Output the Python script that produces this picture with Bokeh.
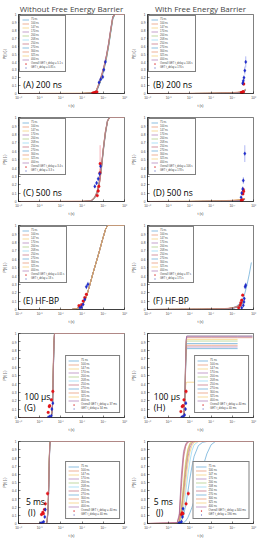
from bokeh.plotting import figure
from bokeh.models import (ColumnDataSource, FixedTicker, CustomJSTickFormatter,
                          Legend, LegendItem, Label, Range1d)
from bokeh.layouts import gridplot
from bokeh.embed import file_html
from bokeh.resources import INLINE

NAN = float("nan")

SERIES = ["75 ns", "100 ns", "147 ns", "170 ns", "200 ns", "208 ns",
          "250 ns", "270 ns", "300 ns", "325 ns", "400 ns"]
COLORS = ["#4095CD", "#E37E53", "#F2C558", "#9E63AA", "#99C164", "#7ACEF2",
          "#B94F63", "#4095CD", "#E37E53", "#F2C558", "#9E63AA"]
X_TICKS_LOG = [-10, -8, -6, -4, -2, 0]
Y_TICKS = [0, 0.1, 0.2, 0.3, 0.4, 0.5, 0.6, 0.7, 0.8, 0.9, 1.0]

# ---------------- (A) 200 ns, no barrier ----------------
A_T = [-10, -4, -3, -2.7, -2.5, -2.3, -2.1, -1.9, -1.7, -1.5, -1.3, -1.1, -0.9, 0]
A_P = [
    [0, 0, 0.004, 0.02, 0.07, 0.14, 0.23, 0.33, 0.45, 0.60, 0.78, 0.95, 1, 1],
    [0, 0.002, 0.012, 0.03, 0.09, 0.16, 0.25, 0.35, 0.47, 0.62, 0.80, 0.97, 1, 1],
    [0, 0, 0.005, 0.025, 0.08, 0.15, 0.24, 0.34, 0.46, 0.61, 0.79, 0.96, 1, 1],
    [0, 0, 0.006, 0.03, 0.09, 0.17, 0.26, 0.36, 0.48, 0.63, 0.81, 0.97, 1, 1],
    [0, 0, 0.004, 0.02, 0.07, 0.15, 0.24, 0.34, 0.46, 0.61, 0.79, 0.96, 1, 1],
    [0, 0, 0.005, 0.025, 0.08, 0.16, 0.25, 0.35, 0.47, 0.62, 0.80, 0.97, 1, 1],
    [0, 0, 0.006, 0.03, 0.10, 0.18, 0.27, 0.37, 0.49, 0.64, 0.82, 0.98, 1, 1],
    [0, 0, 0.004, 0.02, 0.07, 0.14, 0.22, 0.32, 0.44, 0.59, 0.77, 0.94, 1, 1],
    [0, 0, 0.005, 0.02, 0.08, 0.15, 0.24, 0.34, 0.46, 0.61, 0.79, 0.96, 1, 1],
    [0, 0.003, 0.01, 0.03, 0.09, 0.16, 0.25, 0.35, 0.47, 0.62, 0.80, 0.97, 1, 1],
    [0, 0, 0.005, 0.025, 0.08, 0.16, 0.25, 0.36, 0.48, 0.63, 0.81, 0.97, 1, 1],
]
A_RED_T = [-3.0, -2.9, -2.8, -2.7, -2.6]
A_RED_P = [0.005, 0.008, 0.01, 0.012, 0.02]
A_RED_E = [0.005, 0.005, 0.006, 0.006, 0.008]
A_BLUE_T = [-2.4, -2.25, -2.05, -1.95, -1.8]
A_BLUE_P = [0.14, 0.18, 0.21, 0.30, 0.40]
A_BLUE_E = [0.02, 0.02, 0.03, 0.03, 0.04]

# ---------------- (B) 200 ns, barrier ----------------
B_T = [-10, -6, -4, -3, -2, -1.5, -1.2, -1.0, -0.75]
B_P = [
    [0, 0, 0.001, 0.003, 0.006, 0.01, 0.015, 0.025, 0.04],
    [0, 0.001, 0.004, 0.008, 0.012, 0.016, 0.02, 0.03, 0.05],
    [0, 0, 0.002, 0.004, 0.008, 0.012, 0.018, 0.028, 0.045],
    [0, 0, 0.001, 0.003, 0.006, 0.01, 0.015, 0.024, 0.04],
    [0, 0, 0.002, 0.004, 0.007, 0.011, 0.016, 0.026, 0.042],
    [0, 0, 0.001, 0.003, 0.006, 0.01, 0.016, 0.03, 0.06],
    [0, 0, 0.002, 0.005, 0.009, 0.013, 0.018, 0.028, 0.045],
    [0, 0, 0.001, 0.003, 0.006, 0.01, 0.014, 0.022, 0.035],
    [0, 0.001, 0.003, 0.007, 0.011, 0.015, 0.02, 0.03, 0.05],
    [0, 0, 0.002, 0.004, 0.008, 0.012, 0.017, 0.027, 0.044],
    [0, 0, 0.001, 0.003, 0.006, 0.01, 0.015, 0.024, 0.04],
]
B_RED_T = [-1.15, -1.1, -1.05, -1.0, -0.95, -0.92]
B_RED_P = [0.01, 0.01, 0.015, 0.02, 0.02, 0.12]
B_RED_E = [0.005, 0.005, 0.006, 0.008, 0.008, 0.02]
B_BLUE_T = [-1.02, -0.96, -0.9, -0.82, -0.73]
B_BLUE_P = [0.13, 0.16, 0.2, 0.29, 0.4]
B_BLUE_E = [0.02, 0.03, 0.03, 0.05, 0.07]

# ---------------- (C) 500 ns, no barrier ----------------
C_T = [-10, -4, -3.2, -3.0, -2.8, -2.6, -2.4, -2.2, -2.0, -1.8, -1.6, -1.4, 0]
C_P = [
    [0, 0, 0.005, 0.02, 0.05, 0.10, 0.20, 0.38, 0.62, 0.82, 0.96, 1, 1],
    [0, 0.003, 0.01, 0.03, 0.06, 0.12, 0.22, 0.40, 0.64, 0.84, 0.97, 1, 1],
    [0, 0, 0.006, 0.02, 0.05, 0.11, 0.21, 0.39, 0.63, 0.83, 0.96, 1, 1],
    [0, 0, 0.005, 0.02, 0.05, 0.10, 0.19, 0.36, 0.60, 0.80, 0.95, 1, 1],
    [0, 0, 0.004, 0.018, 0.045, 0.09, 0.18, 0.35, 0.59, 0.80, 0.95, 1, 1],
    [0, 0, 0.006, 0.022, 0.055, 0.11, 0.21, 0.39, 0.63, 0.83, 0.97, 1, 1],
    [0, 0, 0.005, 0.02, 0.05, 0.10, 0.20, 0.38, 0.62, 0.82, 0.96, 1, 1],
    [0, 0, 0.004, 0.019, 0.048, 0.10, 0.20, 0.37, 0.61, 0.81, 0.96, 1, 1],
    [0, 0.002, 0.008, 0.025, 0.055, 0.11, 0.21, 0.39, 0.63, 0.83, 0.96, 1, 1],
    [0, 0, 0.005, 0.02, 0.05, 0.10, 0.20, 0.38, 0.62, 0.82, 0.96, 1, 1],
    [0, 0, 0.006, 0.021, 0.052, 0.105, 0.205, 0.385, 0.625, 0.825, 0.965, 1, 1],
]
C_RED_T = [-2.57, -2.48, -2.42, -2.32, -2.3]
C_RED_P = [0.07, 0.125, 0.18, 0.34, 0.45]
C_RED_E = [0.02, 0.03, 0.03, 0.05, 0.22]
C_BLUE_T = [-2.8, -2.63, -2.48, -2.35, -2.26]
C_BLUE_P = [0.18, 0.22, 0.27, 0.33, 0.42]
C_BLUE_E = [0.02, 0.02, 0.03, 0.03, 0.04]

# ---------------- (D) 500 ns, barrier ----------------
D_T = [-10, -6, -4, -3, -2, -1.5, -1.2, -1.0, -0.8]
D_P = [
    [0, 0, 0.002, 0.004, 0.007, 0.01, 0.014, 0.02, 0.03],
    [0, 0.002, 0.006, 0.01, 0.014, 0.018, 0.022, 0.028, 0.035],
    [0, 0.001, 0.004, 0.008, 0.012, 0.016, 0.02, 0.026, 0.032],
    [0, 0, 0.002, 0.004, 0.007, 0.01, 0.013, 0.018, 0.025],
    [0, 0.001, 0.003, 0.006, 0.01, 0.014, 0.018, 0.024, 0.03],
    [0, 0, 0.002, 0.004, 0.007, 0.011, 0.015, 0.022, 0.032],
    [0, 0, 0.003, 0.006, 0.009, 0.013, 0.017, 0.023, 0.03],
    [0, 0, 0.002, 0.004, 0.006, 0.009, 0.012, 0.017, 0.024],
    [0, 0.001, 0.004, 0.008, 0.012, 0.016, 0.02, 0.026, 0.033],
    [0, 0.001, 0.003, 0.007, 0.011, 0.015, 0.019, 0.025, 0.031],
    [0, 0, 0.002, 0.004, 0.007, 0.01, 0.014, 0.02, 0.027],
]
D_RED_T = [-1.15, -1.1, -1.05, -1.0, -0.96, -0.93]
D_RED_P = [0.01, 0.015, 0.02, 0.09, 0.14, 0.12]
D_RED_E = [0.005, 0.005, 0.006, 0.02, 0.03, 0.02]
D_BLUE_T = [-1.17, -1.11, -1.02, -0.96, -0.82]
D_BLUE_P = [0.05, 0.1, 0.15, 0.25, 0.57]
D_BLUE_E = [0.01, 0.02, 0.03, 0.04, 0.1]

# ---------------- (E) HF-BP, no barrier ----------------
E_T = [-10, -5, -4.5, -4.2, -3.9, -3.6, -3.3, -3.0, -2.7, -2.4, -2.1, -1.8, -1.6, 0]
E_CURVE = [0, 0, 0.01, 0.03, 0.07, 0.15, 0.28, 0.42, 0.55, 0.68, 0.82, 0.95, 1, 1]
E_P = [E_CURVE] * len(SERIES)
E_RED_T = [-4.3, -4.05, -3.9, -3.75, -3.6]
E_RED_P = [0.045, 0.057, 0.10, 0.14, 0.18]
E_RED_E = [0.01, 0.01, 0.015, 0.02, 0.02]
E_BLUE_T = [-4.2, -4.05, -3.9, -3.75, -3.6, -3.45]
E_BLUE_P = [0.02, 0.03, 0.06, 0.12, 0.27, 0.30]
E_BLUE_E = [0.005, 0.008, 0.01, 0.02, 0.03, 0.03]

# ---------------- (F) HF-BP, barrier ----------------
F_T = [-10, -5, -3.5, -2.4, -2.0, -1.6, -1.3, -1.0, -0.8, -0.6, -0.4, -0.2]
F_P = [
    [0, 0.002, 0.005, 0.01, 0.02, 0.04, 0.07, 0.13, 0.2, 0.3, 0.42, 0.56],
    [0, 0.004, 0.008, 0.012, 0.018, 0.03, 0.05, 0.09, NAN, NAN, NAN, NAN],
    [0, 0.003, 0.006, 0.01, 0.016, 0.028, 0.048, 0.085, NAN, NAN, NAN, NAN],
    [0, 0.002, 0.005, 0.009, 0.015, 0.026, 0.045, 0.08, NAN, NAN, NAN, NAN],
    [0, 0.003, 0.007, 0.011, 0.017, 0.029, 0.05, 0.09, NAN, NAN, NAN, NAN],
    [0, 0.002, 0.005, 0.01, 0.016, 0.03, 0.052, 0.095, NAN, NAN, NAN, NAN],
    [0, 0.004, 0.008, 0.013, 0.019, 0.032, 0.055, 0.1, NAN, NAN, NAN, NAN],
    [0, 0.002, 0.004, 0.008, 0.014, 0.025, 0.044, 0.078, NAN, NAN, NAN, NAN],
    [0, 0.005, 0.009, 0.013, 0.02, 0.033, 0.056, 0.1, NAN, NAN, NAN, NAN],
    [0, 0.003, 0.006, 0.011, 0.017, 0.029, 0.05, 0.088, NAN, NAN, NAN, NAN],
    [0, 0.002, 0.005, 0.009, 0.015, 0.027, 0.046, 0.082, NAN, NAN, NAN, NAN],
]
F_RED_T = [-1.4, -1.25, -1.2, -1.11, -1.02]
F_RED_P = [0.02, 0.05, 0.08, 0.11, 0.17]
F_RED_E = [0.005, 0.01, 0.01, 0.015, 0.02]
F_BLUE_T = [-1.11, -0.96, -0.9, -0.87, -0.79, -0.73]
F_BLUE_P = [0.02, 0.05, 0.09, 0.13, 0.27, 0.29]
F_BLUE_E = [0.005, 0.01, 0.015, 0.02, 0.03, 0.03]

# ---------------- (G) 100 us, no barrier ----------------
G_T = [-10, -7.0, -6.9, -6.8, -6.75, -6.7, -6.65, -6.6, 0]
G_P = [
    [0, 0, 0.01, 0.1, 0.35, 0.65, 0.9, 1, 1],
    [0, 0, 0.02, 0.15, 0.42, 0.72, 0.93, 1, 1],
    [0, 0, 0.01, 0.12, 0.38, 0.68, 0.91, 1, 1],
    [0, 0, 0.008, 0.09, 0.32, 0.62, 0.88, 1, 1],
    [0, 0, 0.01, 0.1, 0.34, 0.64, 0.9, 1, 1],
    [0, 0, 0.012, 0.11, 0.36, 0.66, 0.9, 1, 1],
    [0, 0, 0.015, 0.13, 0.4, 0.7, 0.92, 1, 1],
    [0, 0, 0.007, 0.08, 0.3, 0.6, 0.87, 1, 1],
    [0, 0, 0.01, 0.1, 0.35, 0.65, 0.9, 1, 1],
    [0, 0, 0.012, 0.12, 0.37, 0.67, 0.91, 1, 1],
    [0, 0, 0.009, 0.09, 0.33, 0.63, 0.89, 1, 1],
]
G_RED_T = [-7.2, -7.1, -7.06, -6.9, -6.76]
G_RED_P = [0.06, 0.13, 0.14, 0.21, 0.31]
G_RED_E = [0.01, 0.02, 0.02, 0.02, 0.03]
G_BLUE_T = [-7.2, -7.06, -6.9, -6.85, -6.76]
G_BLUE_P = [0.0, 0.01, 0.02, 0.10, 0.17]
G_BLUE_E = [0.003, 0.005, 0.008, 0.02, 0.02]

# ---------------- (H) 100 us, barrier ----------------
H_T = [-10, -6.7, -6.55, -6.45, -6.4, -6.35, -6.3, -6.2, -4.0, -2.4, -1.5, -0.1]
H_P = [
    [0, 0, 0.04, 0.3, 0.6, 0.78, 0.82, 0.82, 0.82, 0.82, 0.82, NAN],
    [0, 0, 0.05, 0.35, 0.7, 0.9, 0.95, 0.95, 0.95, 0.95, 0.95, 0.95],
    [0, 0, 0.04, 0.25, 0.38, 0.41, 0.42, 0.42, 0.42, 0.42, NAN, NAN],
    [0, 0, 0.04, 0.3, 0.62, 0.8, 0.84, 0.84, 0.84, 0.84, 0.84, NAN],
    [0, 0, 0.05, 0.33, 0.68, 0.87, 0.91, 0.91, 0.91, 0.91, 0.91, NAN],
    [0, 0, 0.05, 0.36, 0.72, 0.92, 0.97, 0.97, 0.97, 0.97, 0.97, 0.97],
    [0, 0, 0.06, 0.38, 0.74, 0.93, 0.97, 0.97, 0.97, 0.97, 0.97, 0.97],
    [0, 0, 0.04, 0.32, 0.65, 0.84, 0.88, 0.88, 0.88, 0.88, 0.88, NAN],
    [0, 0, 0.04, 0.31, 0.64, 0.82, 0.86, 0.86, 0.86, 0.86, 0.86, NAN],
    [0, 0, 0.05, 0.34, 0.69, 0.89, 0.93, 0.93, 0.93, 0.93, 0.93, NAN],
    [0, 0, 0.05, 0.36, 0.72, 0.91, 0.96, 0.96, 0.96, 0.96, 0.96, 0.96],
]
H_RED_T = [-6.85, -6.73, -6.65, -6.56, -6.36]
H_RED_P = [0.07, 0.13, 0.14, 0.21, 0.31]
H_RED_E = [0.01, 0.02, 0.02, 0.02, 0.03]
H_BLUE_T = [-6.8, -6.65, -6.5, -6.41, -6.38]
H_BLUE_P = [0.0, 0.01, 0.03, 0.10, 0.17]
H_BLUE_E = [0.003, 0.005, 0.008, 0.02, 0.02]

# ---------------- (I) 5 ms, no barrier ----------------
I_T = [-10, -7.4, -7.3, -7.2, -7.15, -7.1, -7.05, -7.0, 0]
I_P = [
    [0, 0, 0.02, 0.2, 0.45, 0.75, 0.95, 1, 1],
    [0, 0, 0.03, 0.24, 0.5, 0.8, 0.97, 1, 1],
    [0, 0, 0.02, 0.21, 0.47, 0.77, 0.96, 1, 1],
    [0, 0, 0.015, 0.18, 0.42, 0.72, 0.94, 1, 1],
    [0, 0, 0.02, 0.2, 0.45, 0.75, 0.95, 1, 1],
    [0, 0, 0.025, 0.22, 0.48, 0.78, 0.96, 1, 1],
    [0, 0, 0.02, 0.19, 0.44, 0.74, 0.95, 1, 1],
    [0, 0, 0.015, 0.17, 0.41, 0.71, 0.93, 1, 1],
    [0, 0, 0.03, 0.23, 0.49, 0.79, 0.97, 1, 1],
    [0, 0, 0.02, 0.2, 0.46, 0.76, 0.95, 1, 1],
    [0, 0, 0.018, 0.19, 0.43, 0.73, 0.94, 1, 1],
]
I_RED_T = [-7.83, -7.71, -7.65, -7.56, -7.47, -7.26]
I_RED_P = [0.11, 0.135, 0.12, 0.17, 0.24, 0.365]
I_RED_E = [0.02, 0.02, 0.02, 0.02, 0.03, 0.03]
I_BLUE_T = [-7.93, -7.77, -7.62, -7.52, -7.47]
I_BLUE_P = [0.0, 0.01, 0.02, 0.08, 0.17]
I_BLUE_E = [0.003, 0.005, 0.008, 0.01, 0.02]

# ---------------- (J) 5 ms, barrier ----------------
J_T = [-10, -7.2, -7.0, -6.8, -6.6, -6.4, -6.2, -6.0, -5.8, -5.6, -5.2, -4.8, -4.4, -4.0, -3.6, 0]
J_P = [
    [0, 0, 0, 0, 0.01, 0.03, 0.07, 0.13, 0.2, 0.28, 0.48, 0.68, 0.85, 0.96, 1, 1],
    [0, 0.01, 0.1, 0.55, 0.85, 0.96, 1, 1, 1, 1, 1, 1, 1, 1, 1, 1],
    [0, 0, 0.03, 0.2, 0.5, 0.76, 0.91, 0.98, 1, 1, 1, 1, 1, 1, 1, 1],
    [0, 0, 0.02, 0.12, 0.35, 0.6, 0.8, 0.92, 0.98, 1, 1, 1, 1, 1, 1, 1],
    [0, 0, 0.03, 0.18, 0.45, 0.72, 0.89, 0.97, 1, 1, 1, 1, 1, 1, 1, 1],
    [0, 0, 0.01, 0.06, 0.18, 0.38, 0.58, 0.76, 0.89, 0.96, 1, 1, 1, 1, 1, 1],
    [0, 0.01, 0.08, 0.45, 0.8, 0.94, 0.99, 1, 1, 1, 1, 1, 1, 1, 1, 1],
    [0, 0, 0, 0.03, 0.1, 0.22, 0.38, 0.55, 0.7, 0.82, 0.95, 0.99, 1, 1, 1, 1],
    [0, 0, 0.02, 0.15, 0.4, 0.66, 0.85, 0.95, 0.99, 1, 1, 1, 1, 1, 1, 1],
    [0, 0, 0.01, 0.09, 0.26, 0.5, 0.72, 0.87, 0.95, 0.99, 1, 1, 1, 1, 1, 1],
    [0, 0.01, 0.12, 0.6, 0.88, 0.97, 1, 1, 1, 1, 1, 1, 1, 1, 1, 1],
]
J_RED_T = [-6.79, -6.72, -6.65, -6.36, -6.15]
J_RED_P = [0.11, 0.13, 0.12, 0.24, 0.365]
J_RED_E = [0.02, 0.02, 0.02, 0.03, 0.03]
J_BLUE_T = [-7.08, -6.94, -6.79, -6.7, -6.65]
J_BLUE_P = [0.0, 0.01, 0.02, 0.08, 0.18]
J_BLUE_E = [0.003, 0.005, 0.008, 0.01, 0.02]

LEGEND_RED = ["Overall GET t_delay = 5.1 s", "Overall GET t_delay = 106 s",
              "Overall GET t_delay = 3.4 s", "Overall GET t_delay = 106 s",
              "Overall GET t_delay = 0.05 s", "Overall GET t_delay = 87 s",
              "Overall GET t_delay = 37 ms", "Overall GET t_delay = 40 ms",
              "Overall GET t_delay = 40 ms", "Overall GET t_delay = 340 ms"]
LEGEND_BLUE = ["GET t_delay = 0.85 s", "GET t_delay = 176 s",
               "GET t_delay = 3.3 s", "GET t_delay = 178 s",
               "GET t_delay = 18 s", "GET t_delay = 175 s",
               "GET t_delay = 34 ms", "GET t_delay = 40 ms",
               "GET t_delay = 40 ms", "GET t_delay = 190 ms"]

XFMT = CustomJSTickFormatter(code="""
const e = Math.round(Math.log10(tick));
const s = {'-':'\u207B','0':'\u2070','1':'\u00B9','2':'\u00B2','3':'\u00B3','4':'\u2074',
           '5':'\u2075','6':'\u2076','7':'\u2077','8':'\u2078','9':'\u2079'};
return '10' + String(e).split('').map(c => s[c]).join('');
""")
YFMT = CustomJSTickFormatter(code="return String(Math.round(tick*10)/10);")


def tt(vals):
    return [10 ** v if v == v else NAN for v in vals]


def make_panel(T, P, rt, rp, re, bt, bp, be, lab_red, lab_blue, tags, leg_loc,
               left, height, top_b, title=None, top_idx=None):
    p = figure(width=129, height=height, x_axis_type="log",
               x_range=Range1d(1e-10, 1), y_range=Range1d(0, 1),
               output_backend="svg", toolbar_location=None,
               min_border_left=11 if left else 10, min_border_right=5,
               min_border_top=top_b, min_border_bottom=12)
    p.background_fill_color = "white"
    p.outline_line_color = "black"
    p.outline_line_width = 0.5
    p.xgrid.visible = False
    p.ygrid.visible = False
    p.xaxis.ticker = FixedTicker(ticks=[10 ** v for v in X_TICKS_LOG], minor_ticks=[])
    p.yaxis.ticker = FixedTicker(ticks=Y_TICKS, minor_ticks=[])
    p.xaxis.formatter = XFMT
    p.yaxis.formatter = YFMT
    p.xaxis.axis_label = "t (s)"
    p.yaxis.axis_label = "P(t) (-)"
    for ax in (p.xaxis[0], p.yaxis[0]):
        ax.major_label_text_font_size = "3.2px"
        ax.major_label_text_font = "Liberation Sans"
        ax.axis_label_text_font_size = "3.5px"
        ax.axis_label_text_font = "Liberation Sans"
        ax.axis_label_text_font_style = "normal"
        ax.major_tick_in = 2
        ax.major_tick_out = 0
        ax.major_label_standoff = 2
        ax.axis_label_standoff = 2
        ax.axis_line_width = 0.5
        ax.major_tick_line_width = 0.5
    if title:
        p.title.text = title
        p.title.text_font = "Open Sans"
        p.title.text_font_size = "8px"
        p.title.text_font_style = "normal"
        p.title.align = "center"
        p.title.standoff = 1
        p.title.offset = 0

    x = tt(T)
    rends = [None] * len(P)
    order = [i for i in range(len(P)) if i != top_idx] + ([top_idx] if top_idx is not None else [])
    for i in order:
        src = ColumnDataSource(dict(x=x, y=P[i]))
        rends[i] = p.line("x", "y", source=src, line_color=COLORS[i],
                          line_width=0.6, line_alpha=1.0)

    rx = tt(rt)
    bx = tt(bt)
    p.segment(x0=rx, y0=[a - b for a, b in zip(rp, re)], x1=rx,
              y1=[a + b for a, b in zip(rp, re)], line_color="#F06070", line_width=0.5)
    p.segment(x0=bx, y0=[a - b for a, b in zip(bp, be)], x1=bx,
              y1=[a + b for a, b in zip(bp, be)], line_color="#6070E8", line_width=0.5)
    r_red = p.scatter(rx, rp, marker="circle", size=2.8, fill_color="#E8141B",
                      line_color="#C00000", line_width=0.2)
    r_blue = p.scatter(bx, bp, marker="diamond", size=3.8, fill_color="#1E2BD6",
                       line_color="#101880", line_width=0.2)

    items = [LegendItem(label=SERIES[i], renderers=[rends[i]]) for i in range(len(P))]
    items += [LegendItem(label=lab_red, renderers=[r_red]),
              LegendItem(label=lab_blue, renderers=[r_blue])]
    big = leg_loc == "top_left"
    leg = Legend(items=items, location=leg_loc,
                 label_text_font_size="2.6px" if big else "2.8px",
                 label_text_font="Liberation Sans",
                 label_height=3, glyph_height=3, glyph_width=7 if big else 11,
                 spacing=1 if big else 0, padding=2, margin=1 if big else 4,
                 label_standoff=2, border_line_color="black", border_line_width=0.4,
                 background_fill_alpha=1.0)
    p.add_layout(leg)

    for text, lx, ly in tags:
        p.add_layout(Label(x=10 ** lx, y=ly, text=text, text_font="Open Sans",
                           text_font_size="8.5px", text_color="black"))
    return p


pA = make_panel(A_T, A_P, A_RED_T, A_RED_P, A_RED_E, A_BLUE_T, A_BLUE_P, A_BLUE_E,
                LEGEND_RED[0], LEGEND_BLUE[0], [("(A) 200 ns", -9.55, 0.045)],
                "top_left", True, 111, 11, title="Without Free Energy Barrier")
pB = make_panel(B_T, B_P, B_RED_T, B_RED_P, B_RED_E, B_BLUE_T, B_BLUE_P, B_BLUE_E,
                LEGEND_RED[1], LEGEND_BLUE[1], [("(B) 200 ns", -9.45, 0.045)],
                "top_left", False, 111, 11, title="With Free Energy Barrier")
pC = make_panel(C_T, C_P, C_RED_T, C_RED_P, C_RED_E, C_BLUE_T, C_BLUE_P, C_BLUE_E,
                LEGEND_RED[2], LEGEND_BLUE[2], [("(C) 500 ns", -9.55, 0.045)],
                "top_left", True, 108, 6)
pD = make_panel(D_T, D_P, D_RED_T, D_RED_P, D_RED_E, D_BLUE_T, D_BLUE_P, D_BLUE_E,
                LEGEND_RED[3], LEGEND_BLUE[3], [("(D) 500 ns", -9.45, 0.045)],
                "top_left", False, 108, 6)
pE = make_panel(E_T, E_P, E_RED_T, E_RED_P, E_RED_E, E_BLUE_T, E_BLUE_P, E_BLUE_E,
                LEGEND_RED[4], LEGEND_BLUE[4], [("(E) HF-BP", -9.55, 0.045)],
                "top_left", True, 108, 6, top_idx=2)
pF = make_panel(F_T, F_P, F_RED_T, F_RED_P, F_RED_E, F_BLUE_T, F_BLUE_P, F_BLUE_E,
                LEGEND_RED[5], LEGEND_BLUE[5], [("(F) HF-BP", -9.45, 0.045)],
                "top_left", False, 108, 6)
pG = make_panel(G_T, G_P, G_RED_T, G_RED_P, G_RED_E, G_BLUE_T, G_BLUE_P, G_BLUE_E,
                LEGEND_RED[6], LEGEND_BLUE[6], [("100 \u00b5s", -9.45, 0.18), ("(G)", -9.45, 0.05)],
                "bottom_right", True, 108, 6)
pH = make_panel(H_T, H_P, H_RED_T, H_RED_P, H_RED_E, H_BLUE_T, H_BLUE_P, H_BLUE_E,
                LEGEND_RED[7], LEGEND_BLUE[7], [("100 \u00b5s", -9.4, 0.18), ("(H)", -9.4, 0.05)],
                "bottom_right", False, 108, 6)
pI = make_panel(I_T, I_P, I_RED_T, I_RED_P, I_RED_E, I_BLUE_T, I_BLUE_P, I_BLUE_E,
                LEGEND_RED[8], LEGEND_BLUE[8], [("5 ms", -9.3, 0.2), ("(I)", -9.1, 0.07)],
                "bottom_right", True, 106, 6)
pJ = make_panel(J_T, J_P, J_RED_T, J_RED_P, J_RED_E, J_BLUE_T, J_BLUE_P, J_BLUE_E,
                LEGEND_RED[9], LEGEND_BLUE[9], [("5 ms", -9.4, 0.2), ("(J)", -9.2, 0.07)],
                "bottom_right", False, 106, 6)

grid = gridplot([[pA, pB], [pC, pD], [pE, pF], [pG, pH], [pI, pJ]],
                toolbar_location=None)

open("out.html", "w").write(file_html(grid, INLINE))
